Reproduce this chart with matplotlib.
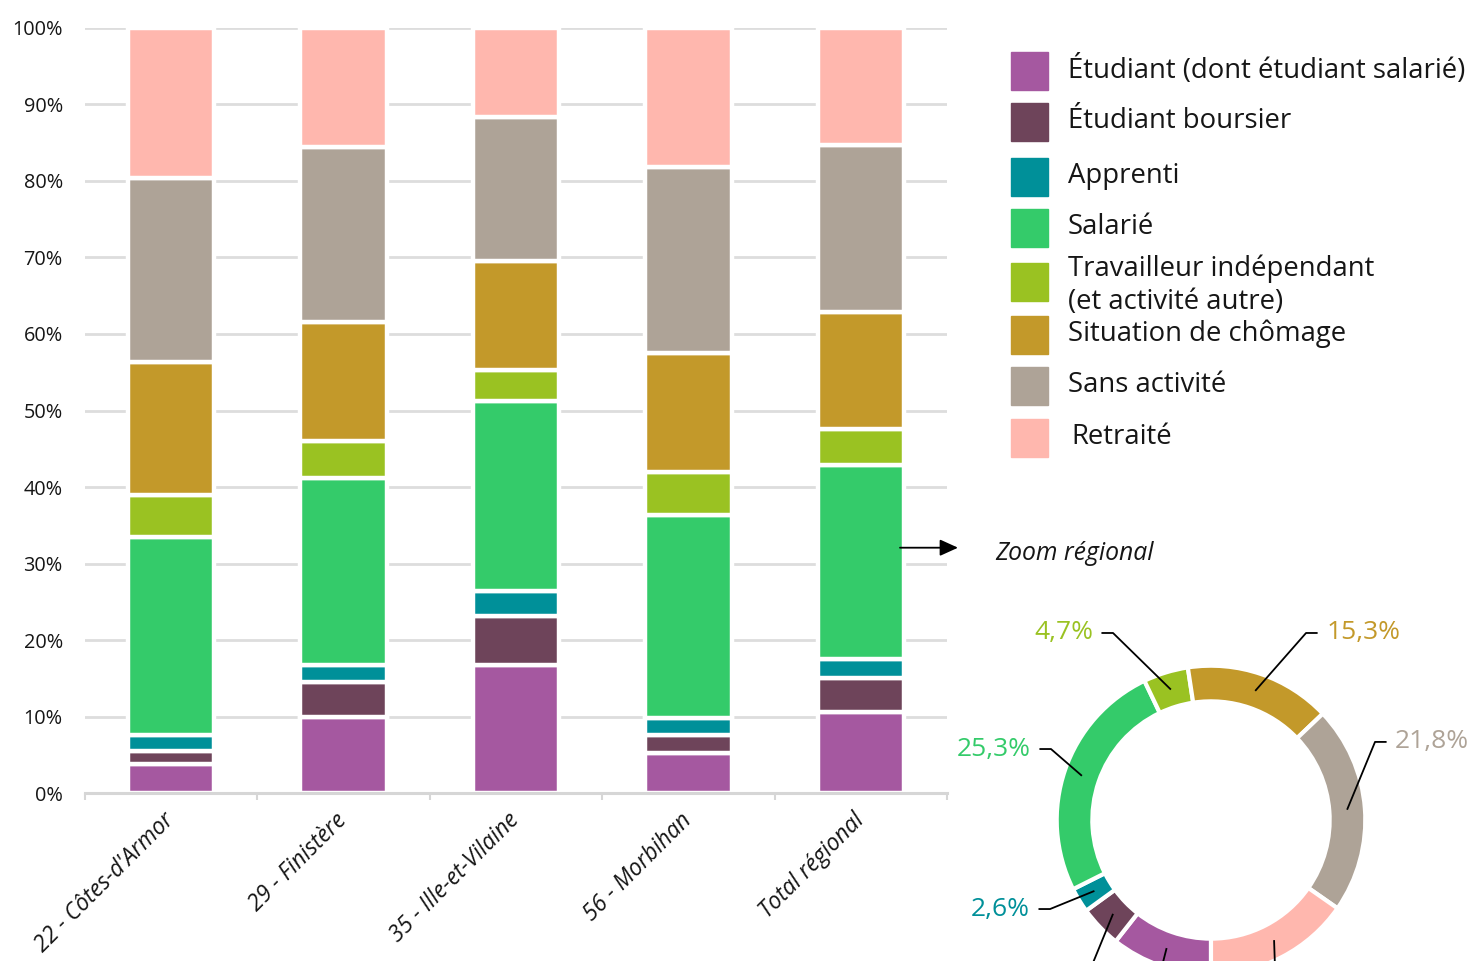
import matplotlib
matplotlib.use("Agg")
import matplotlib.pyplot as plt
from matplotlib.patches import Rectangle
import numpy as np

# ---------------- data ----------------
categories = ["22 - Côtes-d'Armor", "29 - Finistère", "35 - Ille-et-Vilaine",
              "56 - Morbihan", "Total régional"]
series_names = ["Étudiant (dont étudiant salarié)", "Étudiant boursier", "Apprenti",
                "Salarié", "Travailleur indépendant\n(et activité autre)",
                "Situation de chômage", "Sans activité", "Retraité"]
etudiant = [3.8, 10.0, 16.7, 5.2, 10.6]
boursier = [1.7, 4.5, 6.5, 2.4, 4.4]
apprenti = [2.1, 2.2, 3.2, 2.3, 2.6]
salarie = [25.9, 24.5, 24.9, 26.5, 25.3]
independant = [5.4, 4.8, 4.0, 5.6, 4.7]
chomage = [17.4, 15.5, 14.2, 15.5, 15.3]
sans_activite = [24.1, 22.9, 18.8, 24.3, 21.8]
retraite = [19.6, 15.6, 11.7, 18.2, 15.3]
y_ticks = [0, 10, 20, 30, 40, 50, 60, 70, 80, 90, 100]
zoom_title = "Zoom régional"

colors = ["#a558a0", "#6e445a", "#009099", "#34cb6a", "#9ac222",
          "#c3992a", "#aea397", "#ffb7ae"]
series = [etudiant, boursier, apprenti, salarie, independant,
          chomage, sans_activite, retraite]

W, H = 1474, 961
fig = plt.figure(figsize=(W / 100, H / 100), dpi=100)
TXT = "#161616"
FONT = "Open Sans"

# ---------------- stacked bars ----------------
ax = fig.add_axes([85 / W, 1 - 793.3 / H, (947 - 85) / W, (793.3 - 27.7) / H])
x = np.arange(len(categories))
bottom = np.zeros(len(categories))
for vals, col in zip(series, colors):
    ax.bar(x, vals, bottom=bottom, width=0.502, color=col,
           edgecolor="white", linewidth=3.2, zorder=2)
    bottom += np.array(vals)

ax.set_xlim(-0.5, len(categories) - 0.5)
ax.set_ylim(0, 100)
ax.set_axisbelow(True)
ax.set_yticks(y_ticks)
ax.set_yticklabels([f"{v}%" for v in y_ticks], fontsize=14.3, family=FONT, color=TXT)
ax.yaxis.grid(True, color="#dddddd", linewidth=2, zorder=0)
ax.tick_params(axis="y", length=0, pad=16)
for s in ["left", "right", "top"]:
    ax.spines[s].set_visible(False)
ax.spines["bottom"].set_color("#d6d6d6")
ax.spines["bottom"].set_linewidth(2.2)
ax.spines["bottom"].set_zorder(5)

ax.set_xticks(x)
ax.set_xticklabels(categories, rotation=45, ha="right", va="center",
                   rotation_mode="anchor", fontsize=16.3, family="Open Sans",
                   style="italic", color=TXT)
ax.tick_params(axis="x", length=0, pad=17)
ax.set_xticks(np.arange(-0.5, len(categories) + 0.5, 1), minor=True)
ax.tick_params(axis="x", which="minor", length=5, width=1.5, color="#d6d6d6")

# arrow + zoom title
ax.annotate("", xy=(958 / W, 1 - 547.7 / H), xytext=(900 / W, 1 - 547.7 / H),
            xycoords="figure fraction", textcoords="figure fraction",
            arrowprops=dict(arrowstyle="-|>,head_length=1.1,head_width=0.5",
                            color="black", lw=1.3, shrinkA=0, shrinkB=0),
            annotation_clip=False)
fig.text(995 / W, 1 - 553 / H, zoom_title, fontsize=17.8, family=FONT,
         style="italic", color=TXT, ha="left", va="center")

# ---------------- legend (manual) ----------------
row_centers = [71, 122, 177, 228, 282, 335, 386, 438]
text_shift = [0, 0, 0, 0, 4, 0, 0, 0]
for name, col, yc, dy in zip(series_names, colors, row_centers, text_shift):
    fig.patches.append(Rectangle((1011 / W, 1 - (yc + 19) / H), 37 / W, 38 / H,
                                 transform=fig.transFigure, color=col))
    xt = 1071 if name == "Retraité" else 1068
    fig.text(xt / W, 1 - (yc - 1 + dy) / H, name, fontsize=19.8, family=FONT,
             color=TXT, ha="left", va="center", linespacing=1.22)

# ---------------- donut ----------------
R = 154.3
lim = 1.6
side = 2 * lim * R
cx, cy = 1211, 820
dax = fig.add_axes([(cx - side / 2) / W, (H - cy - side / 2) / H, side / W, side / H])
total = [s[-1] for s in series]
wedges, _ = dax.pie(total, colors=colors, startangle=-90, counterclock=False,
                    radius=1, wedgeprops=dict(width=0.231, edgecolor="white",
                                              linewidth=3))
dax.set_xlim(-lim, lim)
dax.set_ylim(-lim, lim)
dax.set_aspect("equal")
dax.axis("off")

# label layout: (corner x, corner y, side) in donut units; others fall off canvas
label_layout = {
    4: (-0.635, 1.212, "left"),
    5: (0.616, 1.212, "right"),
    6: (1.063, 0.506, "right"),
    3: (-1.037, 0.46, "left"),
    2: (-1.043, -0.577, "left"),
}
offcanvas = {0: (-0.42, -1.35), 1: (-1.0, -1.5), 7: (0.43, -1.4)}
rmid = 1 - 0.231 / 2
for i, w in enumerate(wedges):
    ang = np.deg2rad((w.theta1 + w.theta2) / 2)
    px, py = rmid * np.cos(ang), rmid * np.sin(ang)
    if i in label_layout:
        kx, ky, side_ = label_layout[i]
        sign = -1 if side_ == "left" else 1
        ex = kx + sign * 0.075
        dax.plot([px, kx, ex], [py, ky, ky], color="black", lw=1.3,
                 clip_on=False, solid_capstyle="butt")
        lbl = f"{total[i]:.1f}%".replace(".", ",")
        dax.text(ex + sign * 0.055, ky, lbl, color=colors[i], fontsize=19,
                 family=FONT, ha="right" if side_ == "left" else "left",
                 va="center", clip_on=False)
    else:
        kx, ky = offcanvas[i]
        dax.plot([px, kx], [py, ky], color="black", lw=1.3, clip_on=False)

fig.savefig("out.png", dpi=100)
